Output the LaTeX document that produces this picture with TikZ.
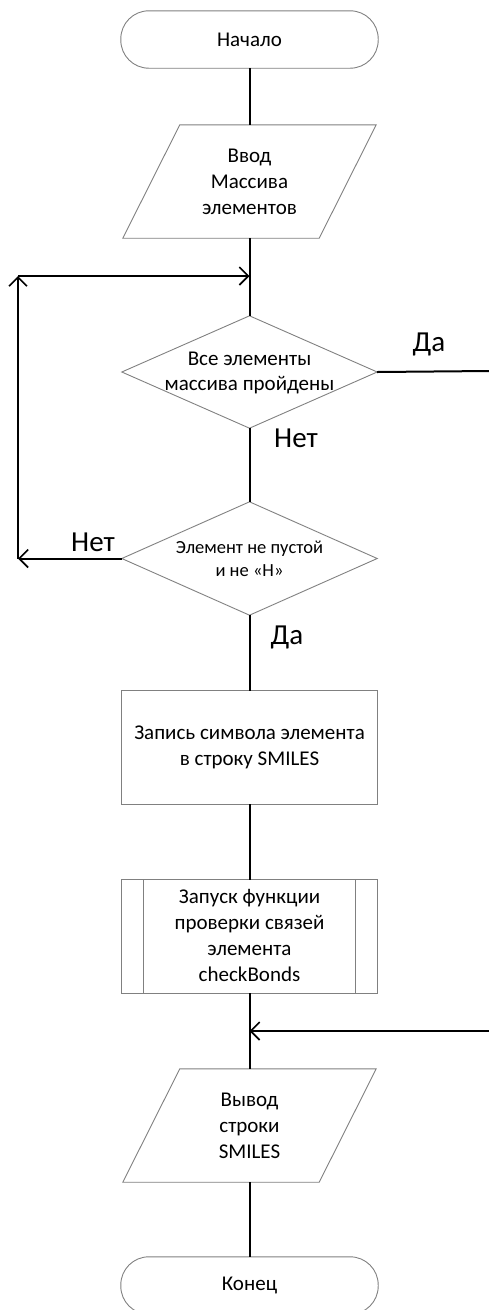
\documentclass[tikz,border=0pt]{standalone}
\usepackage{fontspec}
\setmainfont{Carlito}
\usetikzlibrary{arrows.meta}
\begin{document}
\begin{tikzpicture}[x=1pt,y=1pt,
  box/.style 2 args={draw=none,rectangle,inner sep=0pt,minimum width=#1,minimum height=#2},
  outline/.style={draw=black!50,line width=0.9pt},
  conn/.style={draw=black,line width=2pt},
  arr/.style={conn,-{Straight Barb[length=9pt,width=18pt,line width=1.6pt]}},
  txt/.style={align=center,font=\fontsize{21}{26}\selectfont},
  lbl/.style={font=\fontsize{29}{32}\selectfont}]
\useasboundingbox (0,0) rectangle (489,-1310);
% nodes
\node[box={257}{57}] (start) at (249.5,-39.5) {};
\node[box={253}{113}] (in) at (249.5,-181.5) {};
\node[box={255}{112}] (d1) at (249.5,-372) {};
\node[box={255}{113}] (d2) at (249.5,-558.5) {};
\node[box={255}{113}] (p1) at (249.5,-747.5) {};
\node[box={255}{113}] (sub) at (249.5,-936.5) {};
\node[box={253}{113}] (out) at (249.5,-1125.5) {};
\node[box={257}{57}] (end) at (249.5,-1285.5) {};
\coordinate (L1) at (18,-558.5);
\coordinate (L2) at (18,-276);
\coordinate (J1) at (249.5,-276);
\coordinate (R1) at (489,-371);
\coordinate (R2) at (489,-1031);
\coordinate (J2) at (249.5,-1031);
% outlines
\draw[outline,rounded corners=28pt] (start.north west) rectangle (start.south east);
\draw[outline,rounded corners=28pt] (end.north west) rectangle (end.south east);
\draw[outline] ([xshift=57pt]in.north west) -- (in.north east) -- ([xshift=-57pt]in.south east) -- (in.south west) -- cycle;
\draw[outline] ([xshift=57pt]out.north west) -- (out.north east) -- ([xshift=-57pt]out.south east) -- (out.south west) -- cycle;
\draw[outline] (d1.north) -- (d1.east) -- (d1.south) -- (d1.west) -- cycle;
\draw[outline] (d2.north) -- (d2.east) -- (d2.south) -- (d2.west) -- cycle;
\draw[outline] (p1.north west) rectangle (p1.south east);
\draw[outline] (sub.north west) rectangle (sub.south east);
\draw[outline] ([xshift=22pt]sub.north west) -- ([xshift=22pt]sub.south west);
\draw[outline] ([xshift=-22pt]sub.north east) -- ([xshift=-22pt]sub.south east);
% texts
\node[txt] at (start) {Начало};
\node[txt] at (in) {Ввод\\Массива\\элементов};
\node[txt,font=\fontsize{21}{25}\selectfont] at ([yshift=-1pt]d1) {Все элементы\\массива пройдены};
\node[txt,font=\fontsize{18.5}{23}\selectfont] at (d2) {Элемент не пустой\\и не «Н»};
\node[txt] at (p1) {Запись символа элемента\\в строку SMILES};
\node[txt] at ([yshift=1pt]sub) {Запуск функции\\проверки связей\\элемента\\checkBonds};
\node[txt] at (out) {Вывод\\строки\\SMILES};
\node[txt] at (end) {Конец};
% connectors
\draw[conn] (start.south) -- (in.north);
\draw[conn] (in.south) -- (d1.north);
\draw[conn] (d1.south) -- (d2.north);
\draw[conn] (d2.south) -- (p1.north);
\draw[conn] (p1.south) -- (sub.north);
\draw[conn] (sub.south) -- (out.north);
\draw[conn] (out.south) -- (end.north);
\draw[arr] (d2.west) -- (L1);
\draw[arr] (L1) -- (L2);
\draw[arr] (L2) -- (J1);
\draw[conn] (d1.east) -- (R1);
\draw[arr] (R2) -- (J2);
% labels
\node[lbl] (lda1) at (429,-344) {Да};
\node[lbl] (lnet1) at (296,-438) {Нет};
\node[lbl] (lnet2) at (93,-542) {Нет};
\node[lbl] (lda2) at (287,-637) {Да};
\end{tikzpicture}
\end{document}
